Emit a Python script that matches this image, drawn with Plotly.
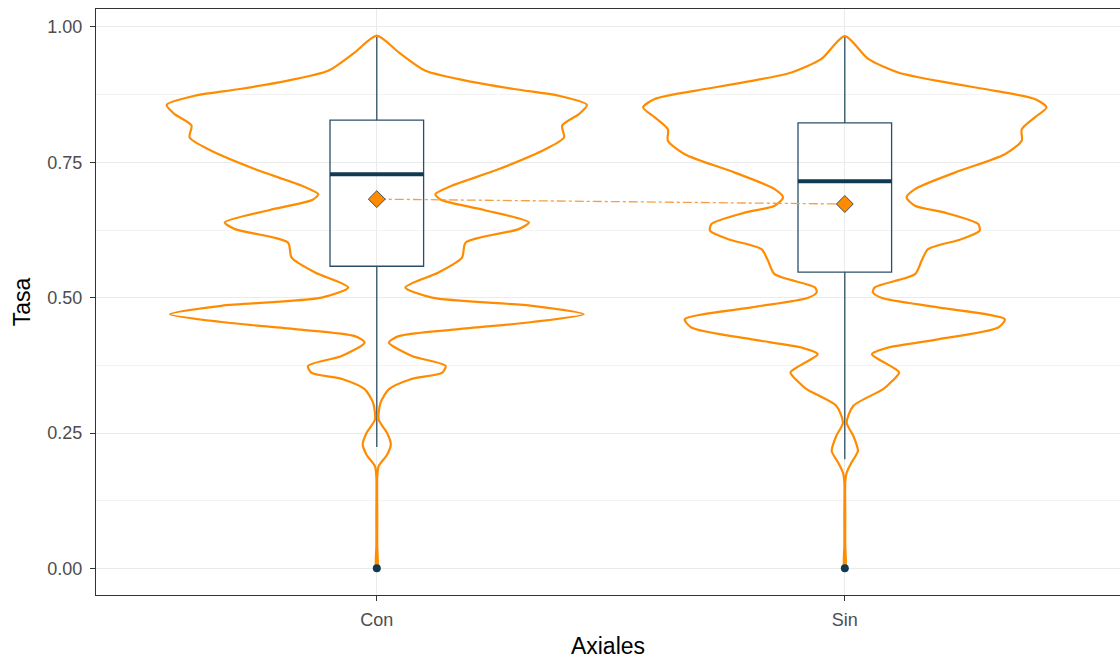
import numpy as np
import plotly.graph_objects as go

# Groups and their x positions
categories = ["Con", "Sin"]
positions = [1, 2]

# Violin outlines: rate level and half-width of the density (x-axis units)
con_levels = [0.984, 0.953, 0.919, 0.901, 0.885, 0.873, 0.856, 0.839, 0.818, 0.796,
              0.774, 0.7375, 0.707, 0.691, 0.681, 0.662, 0.639, 0.6266, 0.602, 0.574,
              0.5466, 0.519, 0.500, 0.485, 0.4695, 0.455, 0.4418, 0.429, 0.417, 0.3924,
              0.374, 0.3617, 0.349, 0.331, 0.306, 0.275, 0.250, 0.229, 0.210, 0.189,
              0.170, 0.100, 0.040, 0.020, 0.005, 0.0]
con_halfwidth = [0.0, 0.047, 0.104, 0.190, 0.296, 0.389, 0.449, 0.432, 0.396, 0.400,
                 0.360, 0.261, 0.161, 0.125, 0.137, 0.229, 0.325, 0.303, 0.190, 0.182,
                 0.132, 0.061, 0.118, 0.332, 0.442, 0.332, 0.175, 0.047, 0.026, 0.075,
                 0.147, 0.140, 0.071, 0.026, 0.008, 0.004, 0.022, 0.030, 0.022, 0.004,
                 0.001, 0.001, 0.001, 0.002, 0.002, 0.0]

sin_levels = [0.983, 0.941, 0.916, 0.898, 0.882, 0.867, 0.8516, 0.833, 0.811, 0.790,
              0.765, 0.731, 0.7006, 0.685, 0.6697, 0.657, 0.636, 0.6235, 0.608, 0.5896,
              0.568, 0.5434, 0.519, 0.510, 0.500, 0.482, 0.460, 0.445, 0.423, 0.408,
              0.3956, 0.3620, 0.345, 0.331, 0.300, 0.269, 0.245, 0.2168, 0.195, 0.177,
              0.160, 0.100, 0.040, 0.020, 0.005, 0.0]
sin_halfwidth = [0.0, 0.050, 0.114, 0.214, 0.321, 0.406, 0.431, 0.406, 0.378, 0.378,
                 0.342, 0.235, 0.150, 0.132, 0.150, 0.214, 0.285, 0.288, 0.249, 0.178,
                 0.164, 0.150, 0.064, 0.060, 0.078, 0.199, 0.342, 0.328, 0.199, 0.093,
                 0.058, 0.116, 0.100, 0.082, 0.018, 0.004, 0.018, 0.028, 0.014, 0.004,
                 0.001, 0.001, 0.001, 0.002, 0.002, 0.0]

# Box statistics per group
q1 = [0.558, 0.547]
median = [0.728, 0.715]
q3 = [0.828, 0.823]
lower_whisker = [0.224, 0.2015]
upper_whisker = [0.9815, 0.9815]
means = [0.682, 0.673]
outliers = [0.0, 0.0]

ORANGE = "#FF8C00"
NAVY = "#0F3A52"
BOX_LINE = "#2B4F66"

fig = go.Figure()

# Violin outlines drawn as closed paths
for pos, lv, hw in [(1, con_levels, con_halfwidth), (2, sin_levels, sin_halfwidth)]:
    lv = np.asarray(lv)
    hw = np.asarray(hw)
    xs = np.concatenate([pos - hw, (pos + hw)[::-1]])
    ys = np.concatenate([lv, lv[::-1]])
    fig.add_trace(go.Scatter(
        x=xs, y=ys, mode="lines",
        line=dict(color=ORANGE, width=2.2, shape="spline", smoothing=0.7),
        hoverinfo="skip", showlegend=False,
    ))

# Box plots from precomputed statistics
fig.add_trace(go.Box(
    x=positions, q1=q1, median=median, q3=q3,
    lowerfence=lower_whisker, upperfence=upper_whisker,
    width=0.2, fillcolor="rgba(255,255,255,0)",
    line=dict(color=BOX_LINE, width=1.3),
    whiskerwidth=0, boxpoints=False, showlegend=False,
))

# Thick median bars
for pos, m in zip(positions, median):
    fig.add_trace(go.Scatter(
        x=[pos - 0.1, pos + 0.1], y=[m, m], mode="lines",
        line=dict(color=NAVY, width=4), hoverinfo="skip", showlegend=False,
    ))

# Outliers
fig.add_trace(go.Scatter(
    x=positions, y=outliers, mode="markers",
    marker=dict(color=NAVY, size=8), showlegend=False,
))

# Mean line and mean markers
fig.add_trace(go.Scatter(
    x=positions, y=means, mode="lines",
    line=dict(color="#F5A040", width=1.3, dash="dashdot"),
    hoverinfo="skip", showlegend=False,
))
fig.add_trace(go.Scatter(
    x=positions, y=means, mode="markers",
    marker=dict(symbol="diamond", size=13, color=ORANGE,
                line=dict(color="#3C4F5C", width=1)),
    showlegend=False,
))

font_family = "Liberation Sans, Arial, sans-serif"

fig.update_layout(
    width=1120, height=659,
    margin=dict(l=96, r=0, t=9, b=64),
    paper_bgcolor="white", plot_bgcolor="white",
    font=dict(family=font_family),
    showlegend=False,
)

fig.update_xaxes(
    range=[0.4, 2.588],
    tickvals=positions, ticktext=categories,
    tickfont=dict(size=18, color="#4D4D4D"),
    ticks="outside", ticklen=5, tickcolor="#333333", tickwidth=1,
    ticklabelstandoff=3,
    showgrid=True, gridcolor="#EBEBEB", gridwidth=1.1,
    zeroline=False,
    showline=True, linecolor="#333333", linewidth=1.2, mirror=True,
    title=dict(text="Axiales", font=dict(size=23, color="black"), standoff=10),
)
fig.update_yaxes(
    range=[-0.0492, 1.0332],
    tickvals=[0, 0.25, 0.5, 0.75, 1.0],
    ticktext=["0.00", "0.25", "0.50", "0.75", "1.00"],
    tickfont=dict(size=18, color="#4D4D4D"),
    ticks="outside", ticklen=5, tickcolor="#333333", tickwidth=1,
    ticklabelstandoff=4,
    showgrid=True, gridcolor="#EBEBEB", gridwidth=1.1,
    minor=dict(tickvals=[0.125, 0.375, 0.625, 0.875], showgrid=True,
               gridcolor="#F3F3F3", gridwidth=0.6, ticks=""),
    zeroline=False,
    showline=True, linecolor="#333333", linewidth=1.2,
    title=dict(text="Tasa", font=dict(size=23, color="black"), standoff=10),
)

fig.write_html("out.html")
